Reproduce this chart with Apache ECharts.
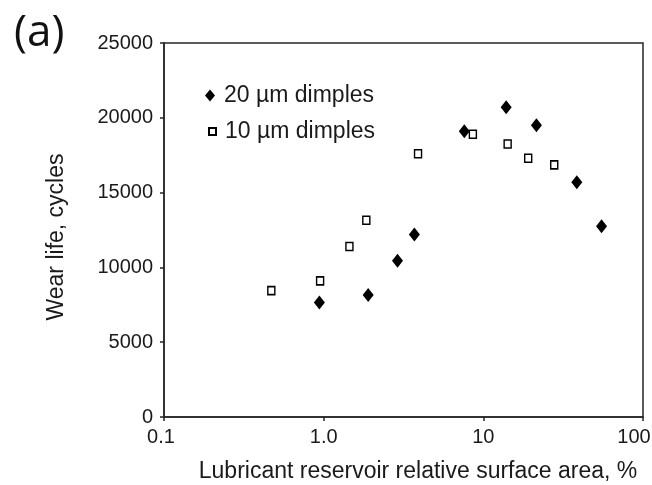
<!DOCTYPE html>
<html>
<head>
<meta charset="utf-8">
<script src="https://cdn.jsdelivr.net/npm/echarts@6/dist/echarts.min.js"></script>
<style>html,body{margin:0;padding:0;background:#fff}#c{width:652px;height:485px}</style>
</head>
<body>
<div id="c"></div>
<script>
// 20 µm dimples: [relative surface area %, wear life cycles]
var dimples20 = [
  [0.94, 7650], [1.9, 8150], [2.9, 10450], [3.7, 12200], [7.6, 19100],
  [13.9, 20700], [21.5, 19500], [38.5, 15700], [55, 12750]
];
// 10 µm dimples
var dimples10 = [
  [0.47, 8450], [0.95, 9100], [1.45, 11400], [1.85, 13150], [3.9, 17600],
  [8.6, 18900], [14.2, 18250], [19.1, 17300], [27.8, 16850]
];
var seriesNames = ['20 µm dimples', '10 µm dimples'];
var xTickLabels = ['0.1', '1.0', '10', '100'];
var yTicks = [0, 5000, 10000, 15000, 20000, 25000];

var FONT = 'Liberation Sans';
var INK = '#1a1a1a';
var chart = echarts.init(document.getElementById('c'), null, {renderer: 'canvas'});
chart.setOption({
  animation: false,
  backgroundColor: '#fff',
  grid: {left: 164, right: 9, top: 43, bottom: 68, outerBoundsMode: 'none', containLabel: false,
    show: true, borderColor: '#262626', borderWidth: 1.5, backgroundColor: 'transparent'},
  xAxis: {
    type: 'log', logBase: 10, min: 0.1, max: 100,
    axisLine: {show: true, lineStyle: {color: '#262626', width: 1.5}},
    axisTick: {show: true, inside: false, length: 4, lineStyle: {color: '#262626', width: 1.5}},
    minorTick: {show: false},
    splitLine: {show: false},
    axisLabel: {
      fontFamily: FONT, fontSize: 20, color: INK, margin: 10,
      formatter: function (v) {
        var i = Math.round(Math.log10(v)) + 1;
        var t = xTickLabels[i] !== undefined ? xTickLabels[i] : '';
        if (i === 0) return '{first|' + t + '}';
        if (i === xTickLabels.length - 1) return '{last|' + t + '}';
        return t;
      },
      rich: {
        first: {fontFamily: FONT, fontSize: 20, color: INK, padding: [0, 6, 0, 0]},
        last: {fontFamily: FONT, fontSize: 20, color: INK, padding: [0, 18, 0, 0]}
      }
    }
  },
  yAxis: {
    type: 'value', min: yTicks[0], max: yTicks[yTicks.length - 1], interval: 5000,
    axisLine: {show: true, lineStyle: {color: '#262626', width: 1.5}},
    axisTick: {show: true, inside: false, length: 4, lineStyle: {color: '#262626', width: 1.5}},
    splitLine: {show: false},
    axisLabel: {fontFamily: FONT, fontSize: 20, color: INK, margin: 11, padding: [5, 0, 0, 0],
      formatter: function (v) { return String(v); }}
  },
  legend: [{
    data: [seriesNames[0]], orient: 'vertical', left: 200, top: 79,
    itemWidth: 10, itemHeight: 12,
    textStyle: {fontFamily: FONT, fontSize: 23, color: INK, padding: [0, 0, 0, 4]}
  }, {
    data: [seriesNames[1]], orient: 'vertical', left: 203, top: 115,
    itemWidth: 7, itemHeight: 7,
    textStyle: {fontFamily: FONT, fontSize: 23, color: INK, padding: [0, 0, 0, 4]}
  }],
  graphic: [
    {type: 'text', left: 14, top: 11, style: {text: '(a)', font: '44px "Open Sans"', fill: '#111'}},
    {type: 'text', x: 418, y: 472, style: {text: 'Lubricant reservoir relative surface area, %', font: '23px "Liberation Sans"', fill: INK, align: 'center', verticalAlign: 'middle'}},
    {type: 'text', x: 57, y: 237, rotation: Math.PI / 2, style: {text: 'Wear life, cycles', font: '23px "Liberation Sans"', fill: INK, align: 'center', verticalAlign: 'middle'}}
  ],
  series: [{
    name: seriesNames[0], type: 'scatter', data: dimples20,
    symbol: 'diamond', symbolSize: [11, 14],
    itemStyle: {color: '#000', opacity: 1}
  }, {
    name: seriesNames[1], type: 'scatter', data: dimples10,
    symbol: 'rect', symbolSize: [7, 8],
    itemStyle: {color: '#fff', borderColor: '#000', borderWidth: 1.5, opacity: 1}
  }]
});
</script>
</body>
</html>
